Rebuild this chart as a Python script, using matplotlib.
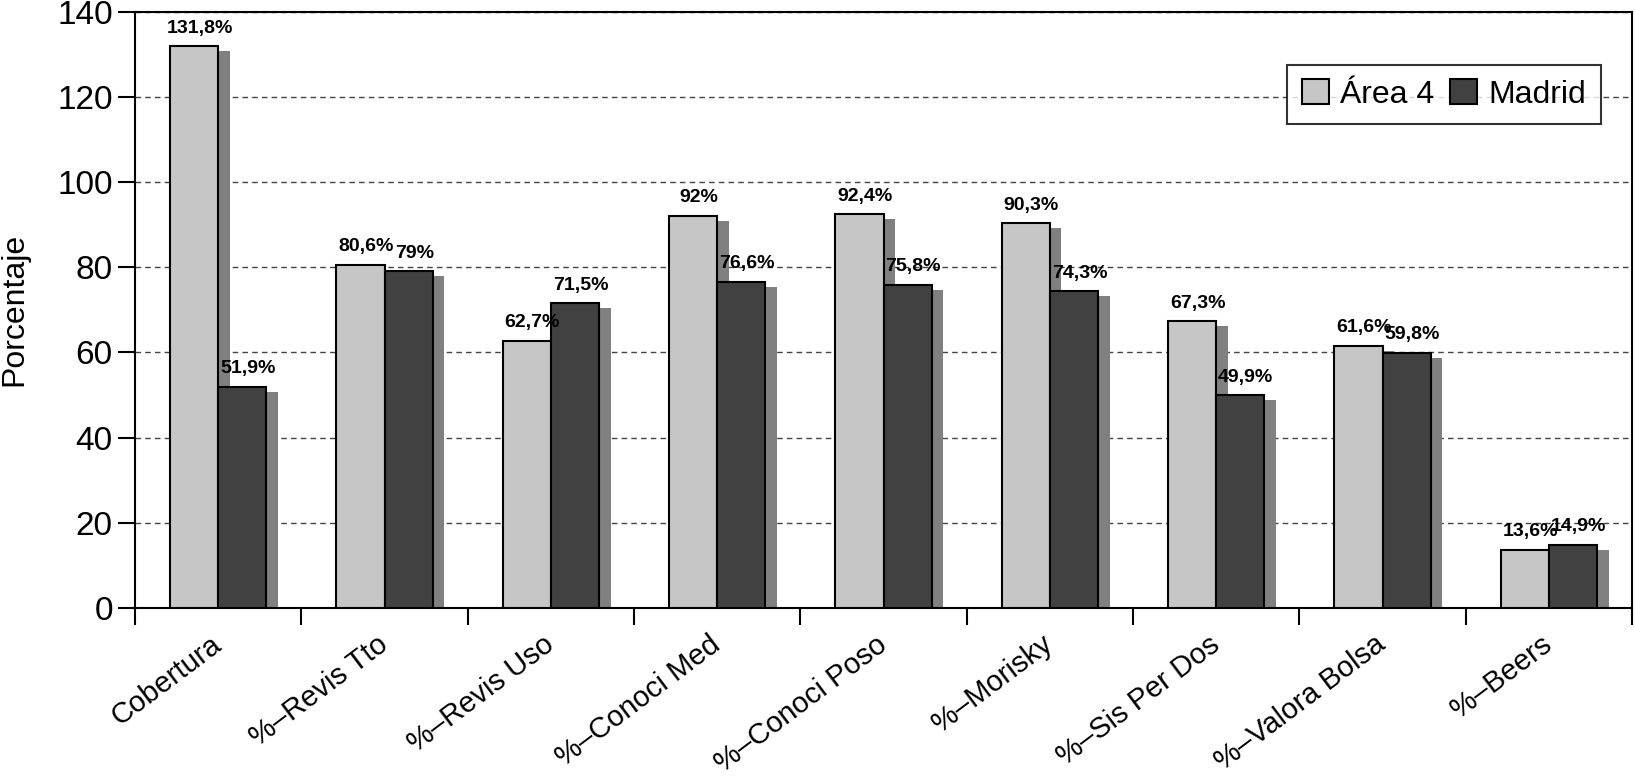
import numpy as np
import matplotlib
matplotlib.use('Agg')
import matplotlib.pyplot as plt
import matplotlib.transforms as mtransforms

categories = ['Cobertura', '%–Revis Tto', '%–Revis Uso', '%–Conoci Med',
              '%–Conoci Poso', '%–Morisky', '%–Sis Per Dos',
              '%–Valora Bolsa', '%–Beers']
area4 = [131.8, 80.6, 62.7, 92, 92.4, 90.3, 67.3, 61.6, 13.6]
madrid = [51.9, 79, 71.5, 76.6, 75.8, 74.3, 49.9, 59.8, 14.9]
yticks = [0, 20, 40, 60, 80, 100, 120, 140]

plt.rcParams['font.family'] = ['Liberation Sans', 'DejaVu Sans']

fig = plt.figure(figsize=(16.35, 7.76), dpi=100)
ax = fig.add_axes([135 / 1635, 1 - 608 / 776, (1632 - 135) / 1635, (608 - 11.5) / 776])

x = np.arange(len(categories))
w = 0.29

# shadow bars, shifted right/down a few pixels
shadow = ax.transData + mtransforms.ScaledTranslation(0.115, -0.05, fig.dpi_scale_trans)
for xs, vals in ((x - w / 2, area4), (x + w / 2, madrid)):
    bs = ax.bar(xs, vals, w, color='#808080', linewidth=0, zorder=1)
    for b in bs:
        b.set_transform(shadow)

b1 = ax.bar(x - w / 2, area4, w, color='#c6c6c6', edgecolor='black', linewidth=1.5,
            label='Área 4', zorder=3)
b2 = ax.bar(x + w / 2, madrid, w, color='#414141', edgecolor='black', linewidth=1.5,
            label='Madrid', zorder=3)

def fmt(v):
    return f"{v:g}".replace('.', ',') + '%'

for xs, vals in ((x - w / 2, area4), (x + w / 2, madrid)):
    for xi, v in zip(xs, vals):
        ax.annotate(fmt(v), (xi, v), xytext=(4, 7), textcoords='offset points',
                    ha='center', va='bottom', fontsize=14, fontweight='bold', zorder=5)

ax.set_xlim(-0.5, len(categories) - 0.5)
ax.set_ylim(0, 140)
ax.set_yticks(yticks)
ax.tick_params(axis='y', direction='out', length=12, width=1.5, labelsize=24, pad=4)
ax.set_ylabel('Porcentaje', fontsize=23, labelpad=20)

ax.set_xticks(x)
ax.set_xticklabels(categories, rotation=37, ha='right', va='center',
                   rotation_mode='anchor', fontsize=21)
ax.tick_params(axis='x', which='major', length=0, pad=24)
ax.set_xticks(np.arange(len(categories) + 1) - 0.5, minor=True)
ax.tick_params(axis='x', which='minor', direction='out', length=12, width=1.5)

ax.yaxis.grid(True, linestyle=(0, (4, 3)), color='#444444', linewidth=1)
ax.set_axisbelow(True)
for s in ax.spines.values():
    s.set_linewidth(1.5)

leg = ax.legend(loc='upper right', bbox_to_anchor=(0.979, 0.911), ncol=2,
                fontsize=23, frameon=True, fancybox=False, edgecolor='black',
                handlelength=0.85, handleheight=0.85, handletextpad=0.35,
                columnspacing=0.5, borderpad=0.45, borderaxespad=0)
leg.get_frame().set_linewidth(1.5)
for h in leg.legend_handles:
    h.set_linewidth(1.5)

fig.savefig('out.png', dpi=100)
